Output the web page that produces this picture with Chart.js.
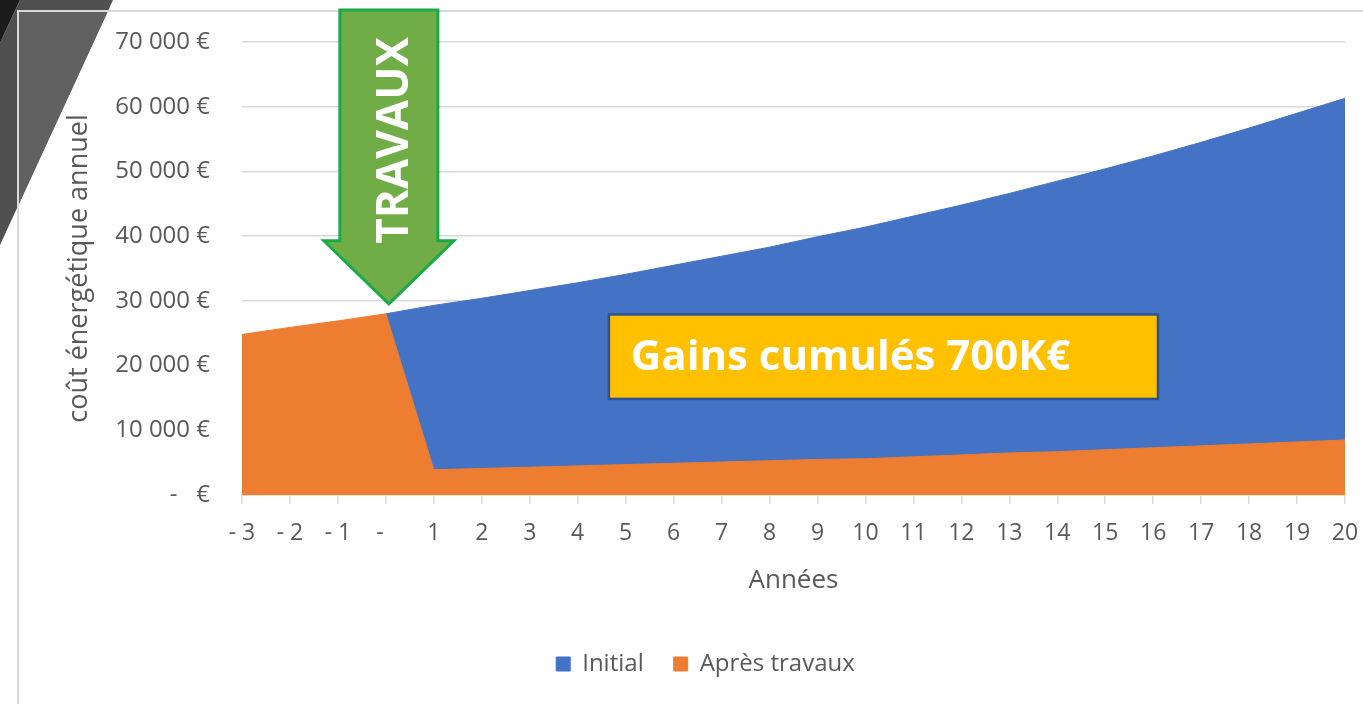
<!DOCTYPE html>
<html lang="fr">
<head>
<meta charset="utf-8">
<title>Coût énergétique annuel</title>
<script src="https://cdn.jsdelivr.net/npm/chart.js@4.4.1/dist/chart.umd.min.js"></script>
<style>
  html, body { margin: 0; padding: 0; background: #fff; }
  #wrap { width: 1363px; height: 704px; }
</style>
</head>
<body>
<div id="wrap"><canvas id="chart" width="1363" height="704"></canvas></div>
<script>
// Années (format comptable Excel : "- 3", "-" pour zéro)
const years = ['- 3', '- 2', '- 1', '-  ', '1', '2', '3', '4', '5', '6', '7', '8', '9', '10',
               '11', '12', '13', '14', '15', '16', '17', '18', '19', '20'];

// coût énergétique annuel (€)
const initialCost = [null, null, null, 28000, 29300, 30400, 31600, 32800, 34100, 35500, 36900,
                     38300, 39900, 41400, 43100, 44800, 46600, 48500, 50400, 52400, 54500,
                     56700, 59000, 61300];
const afterWorksCost = [24800, 25900, 26900, 28000, 3900, 4100, 4300, 4500, 4700, 4900, 5100,
                        5300, 5500, 5600, 5900, 6200, 6500, 6700, 7000, 7300, 7600,
                        7900, 8200, 8500];

const yTicks = [0, 10000, 20000, 30000, 40000, 50000, 60000, 70000];

const workIndex = 3;           // année des travaux
const gainsText = 'Gains cumulés 700K€';
const gainsBox = { from: 7.65, to: 19.1, top: 27900, bottom: 14850 };

const FONT = "'Open Sans', 'Noto Sans', sans-serif";
const GREY = '#595959';

function formatEuro(v) {
  if (v === 0) return '-   €';
  return String(v).replace(/\B(?=(\d{3})+(?!\d))/g, ' ') + ' €';
}

const decorPlugin = {
  id: 'decor',
  beforeDraw(chart) {
    const ctx = chart.ctx;
    ctx.save();
    ctx.fillStyle = '#fff';
    ctx.fillRect(0, 0, chart.width, chart.height);

    // coin de la diapositive
    ctx.fillStyle = '#505050';
    ctx.beginPath();
    ctx.moveTo(20, 0); ctx.lineTo(113, 0); ctx.lineTo(0, 245); ctx.lineTo(0, 43);
    ctx.closePath();
    ctx.fill();
    ctx.save();
    ctx.beginPath();
    ctx.rect(18, 11, 200, 300);
    ctx.clip();
    ctx.fillStyle = '#616161';
    ctx.beginPath();
    ctx.moveTo(20, 0); ctx.lineTo(113, 0); ctx.lineTo(0, 245); ctx.lineTo(0, 43);
    ctx.closePath();
    ctx.fill();
    ctx.restore();
    ctx.fillStyle = '#1c1c1c';
    ctx.beginPath();
    ctx.moveTo(0, 0); ctx.lineTo(20, 0); ctx.lineTo(0, 43);
    ctx.closePath();
    ctx.fill();

    // cadre du graphique
    ctx.strokeStyle = '#d9d9d9';
    ctx.lineWidth = 2;
    ctx.beginPath();
    ctx.moveTo(18, chart.height);
    ctx.lineTo(18, 11);
    ctx.lineTo(chart.width, 11);
    ctx.stroke();
    ctx.restore();
  },
  afterDraw(chart) {
    const ctx = chart.ctx;
    const xs = chart.scales.x, ys = chart.scales.y;

    // flèche TRAVAUX
    const cx = xs.getPixelForValue(workIndex) + 3;
    const tipY = ys.getPixelForValue(initialCost[workIndex]) - 10;
    const top = 10, shaftW = 49, headW = 65, headH = 63;
    ctx.save();
    ctx.beginPath();
    ctx.moveTo(cx - shaftW, top);
    ctx.lineTo(cx + shaftW, top);
    ctx.lineTo(cx + shaftW, tipY - headH);
    ctx.lineTo(cx + headW, tipY - headH);
    ctx.lineTo(cx, tipY);
    ctx.lineTo(cx - headW, tipY - headH);
    ctx.lineTo(cx - shaftW, tipY - headH);
    ctx.closePath();
    ctx.fillStyle = '#70ad47';
    ctx.fill();
    ctx.lineWidth = 3;
    ctx.lineJoin = 'miter';
    ctx.strokeStyle = '#1aab48';
    ctx.stroke();

    ctx.translate(cx + 7, (top + tipY - headH) / 2 + 15);
    ctx.rotate(-Math.PI / 2);
    ctx.fillStyle = '#fff';
    ctx.font = 'bold 44px ' + FONT;
    ctx.textAlign = 'center';
    ctx.textBaseline = 'middle';
    ctx.fillText('TRAVAUX', 0, 0);
    ctx.restore();

    // encadré gains
    const bx1 = xs.getPixelForValue(gainsBox.from), bx2 = xs.getPixelForValue(gainsBox.to);
    const by1 = ys.getPixelForValue(gainsBox.top), by2 = ys.getPixelForValue(gainsBox.bottom);
    ctx.save();
    ctx.fillStyle = '#ffc000';
    ctx.fillRect(bx1, by1, bx2 - bx1, by2 - by1);
    ctx.lineWidth = 2.5;
    ctx.strokeStyle = '#2f528f';
    ctx.strokeRect(bx1, by1, bx2 - bx1, by2 - by1);
    ctx.fillStyle = '#fff';
    ctx.font = 'bold 42px ' + FONT;
    ctx.textAlign = 'left';
    ctx.textBaseline = 'middle';
    ctx.fillText(gainsText, bx1 + 22, (by1 + by2) / 2 + 1);
    ctx.restore();
  }
};

const ctx = document.getElementById('chart').getContext('2d');
const chart = new Chart(ctx, {
  type: 'line',
  data: {
    labels: years,
    datasets: [
      {
        label: 'Initial',
        data: initialCost,
        backgroundColor: '#4472c4',
        borderColor: '#4472c4',
        borderWidth: 1,
        fill: 'origin',
        pointRadius: 0,
        tension: 0,
        order: 1
      },
      {
        label: 'Après travaux',
        data: afterWorksCost,
        backgroundColor: '#ed7d31',
        borderColor: '#ed7d31',
        borderWidth: 1,
        fill: 'origin',
        pointRadius: 0,
        tension: 0,
        order: 0
      }
    ]
  },
  options: {
    responsive: false,
    animation: false,
    devicePixelRatio: 1,
    layout: { padding: { left: 66, right: 18, top: 42, bottom: 18 } },
    plugins: {
      tooltip: { enabled: false },
      legend: {
        position: 'bottom',
        labels: {
          color: GREY,
          font: { family: FONT, size: 24 },
          boxWidth: 14,
          boxHeight: 14,
          padding: 30,
          sort: (a, b) => a.datasetIndex - b.datasetIndex
        }
      }
    },
    scales: {
      x: {
        afterFit(scale) { scale.height = 127; },
        grid: { drawOnChartArea: false, drawTicks: true, tickLength: 9, color: '#d9d9d9', lineWidth: 1.5 },
        border: { color: '#d9d9d9', width: 1.5 },
        ticks: {
          color: GREY,
          font: { family: FONT, size: 23, lineHeight: 2.2 },
          padding: 4,
          maxRotation: 0,
          autoSkip: false
        },
        title: {
          display: true,
          text: 'Années',
          color: GREY,
          font: { family: FONT, size: 26 },
          padding: { top: 2, bottom: 26 }
        }
      },
      y: {
        min: 0,
        max: 70000,
        afterBuildTicks(scale) { scale.ticks = yTicks.map(v => ({ value: v })); },
        afterFit(scale) { scale.width = 242 - 66; },
        grid: { drawTicks: true, tickLength: 28, tickColor: 'rgba(0,0,0,0)', color: '#d9d9d9', lineWidth: 1.5 },
        border: { display: false },
        ticks: {
          color: GREY,
          font: { family: FONT, size: 24 },
          padding: 4,
          callback: (v) => formatEuro(v)
        },
        title: {
          display: true,
          text: 'coût énergétique annuel',
          color: GREY,
          font: { family: FONT, size: 27, lineHeight: 1 },
          padding: { top: 0, bottom: 0 }
        }
      }
    }
  },
  plugins: [decorPlugin]
});
</script>
</body>
</html>
